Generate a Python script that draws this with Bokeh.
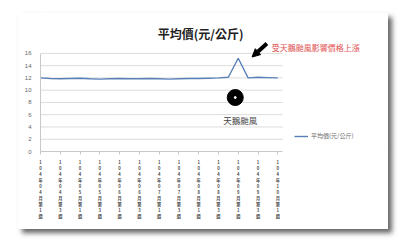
from bokeh.plotting import figure
from bokeh.models import (Range1d, FixedTicker, Label, Arrow, NormalHead, Legend, LegendItem, Spacer)
from bokeh.layouts import row, column
from bokeh.embed import file_html
from bokeh.resources import INLINE

# ---- data ----
week_labels = ["104年04月第1週", "104年04月第3週", "104年05月第1週", "104年05月第3週",
               "104年06月第1週", "104年06月第3週", "104年07月第1週", "104年07月第3週",
               "104年08月第1週", "104年08月第3週", "104年09月第1週", "104年09月第3週",
               "104年10月第1週"]
week_index = list(range(25))
avg_price = [12.0, 11.9, 11.85, 11.9, 11.95, 11.85, 11.8, 11.85, 11.9, 11.85,
             11.85, 11.9, 11.85, 11.8, 11.85, 11.9, 11.9, 11.95, 12.0, 12.1,
             15.2, 12.0, 12.1, 12.05, 12.0]
y_ticks = [0, 2, 4, 6, 8, 10, 12, 14, 16]
series_name = "平均價(元/公斤)"
title_text = "平均價(元/公斤)"
note_text = "受天鵝颱風影響價格上漲"
typhoon_text = "天鵝颱風"

FONT = "Noto Sans CJK TC"
X_END = 24.5  # end of the category area

p = figure(width=370, height=216, output_backend="svg", toolbar_location=None,
           x_range=Range1d(0, 35.2), y_range=Range1d(0, 22.5),
           min_border_left=22, min_border_right=0, min_border_top=0, min_border_bottom=78)
p.styles = {"box-shadow": "4px 4px 5px #666", "outline": "1px solid #cfcfcf",
            "outline-offset": "-3px"}
p.background_fill_color = "white"
p.border_fill_color = "white"
p.outline_line_color = None

# horizontal gridlines, limited to the category area
p.segment(x0=[0] * (len(y_ticks) - 1), x1=[X_END] * (len(y_ticks) - 1),
          y0=y_ticks[1:], y1=y_ticks[1:], line_color="#dcdcdc", line_width=1)
p.xgrid.grid_line_color = None
p.ygrid.grid_line_color = None

line = p.line(week_index, avg_price, line_color="#5a80b8", line_width=1.4)

# axes
p.yaxis.ticker = FixedTicker(ticks=y_ticks)
p.yaxis.bounds = (0, 16)
p.yaxis.major_label_text_font_size = "6px"
p.yaxis.major_label_text_color = "#666666"
p.yaxis.axis_line_color = "#c8c8c8"
p.yaxis.major_tick_line_color = None
p.yaxis.minor_tick_line_color = None
p.yaxis.major_label_standoff = 3

tick_pos = week_index[::2]
p.xaxis.ticker = FixedTicker(ticks=tick_pos)
p.xaxis.bounds = (0, X_END)
p.xaxis.major_label_overrides = {t: "\n".join(lbl) for t, lbl in zip(tick_pos, week_labels)}
p.xaxis.major_label_text_font_size = "4.2px"
p.xaxis.major_label_text_line_height = 1.0
p.xaxis.major_label_text_color = "#4a4a4a"
p.xaxis.major_label_text_font = FONT
p.xaxis.major_label_text_font_style = "bold"
p.xaxis.axis_line_color = "#c8c8c8"
p.xaxis.major_tick_line_color = "#c8c8c8"
p.xaxis.major_tick_out = 3
p.xaxis.major_tick_in = 0
p.xaxis.minor_tick_line_color = None
p.xaxis.major_label_standoff = 4

# title
p.add_layout(Label(x=16.2, y=19.3, text=title_text, text_align="center", text_baseline="middle",
                   text_font=FONT, text_font_style="bold", text_font_size="12px",
                   text_color="#222222"))
# annotation text + arrow
p.add_layout(Label(x=23.4, y=17.0, text=note_text, text_align="left", text_baseline="middle",
                   text_font=FONT, text_font_size="8px", text_color="#e05050"))
p.add_layout(Arrow(x_start=22.9, y_start=17.6, x_end=21.4, y_end=15.4, line_width=4,
                   line_color="black",
                   end=NormalHead(size=8, fill_color="black", line_color="black")))
# typhoon icon
p.scatter([19.7], [8.8], size=16, color="black")
p.scatter([19.7], [8.8], size=2, color="white")
p.add_layout(Label(x=20.2, y=5.06, text=typhoon_text, text_align="center", text_baseline="middle",
                   text_font=FONT, text_font_size="8.5px", text_color="#444444"))

legend = Legend(items=[LegendItem(label=series_name, renderers=[line])],
                location=(254, 11), label_text_font=FONT, label_text_font_size="6px",
                label_text_color="#666666", glyph_width=14, glyph_height=6,
                border_line_color=None, background_fill_alpha=0, padding=2, spacing=0,
                label_standoff=3, margin=0)
p.add_layout(legend)

layout = column(Spacer(height=13), row(Spacer(width=18), p, spacing=0), spacing=0)
open("out.html", "w").write(file_html(layout, INLINE))
